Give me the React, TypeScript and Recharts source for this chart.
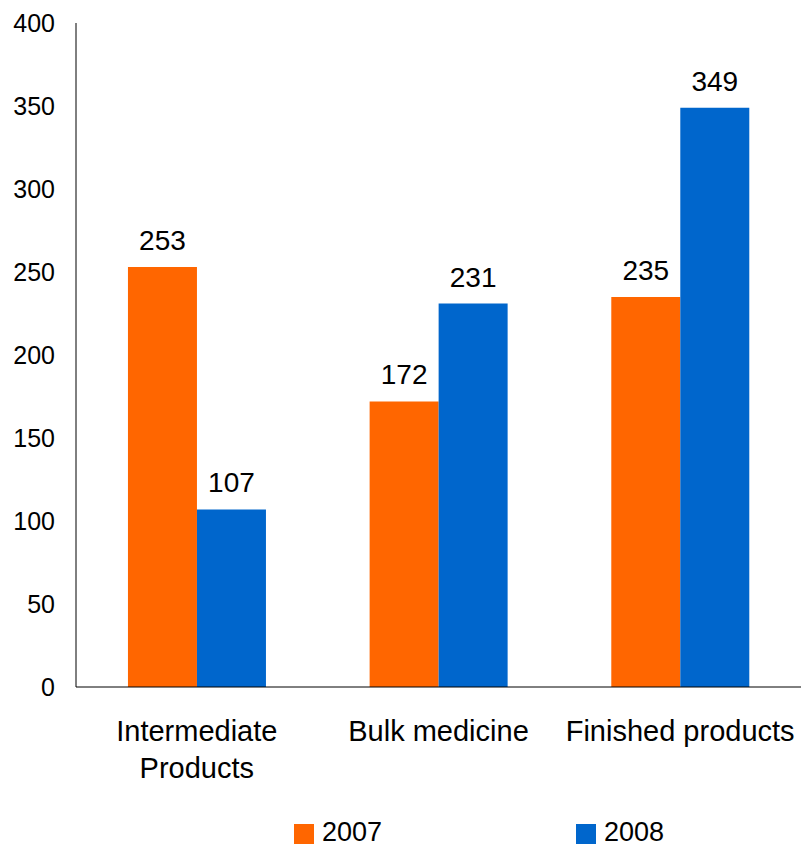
import React from 'react';
import { BarChart, Bar, XAxis, YAxis, LabelList } from 'recharts';

const categories = ['Intermediate Products', 'Bulk medicine', 'Finished products'];
const values2007 = [253, 172, 235];
const values2008 = [107, 231, 349];
const yTicks = [0, 50, 100, 150, 200, 250, 300, 350, 400];
const seriesNames = ['2007', '2008'];
const seriesColors = ['#FF6600', '#0066CC'];

const data = categories.map((name, i) => ({
  name,
  y2007: values2007[i],
  y2008: values2008[i],
}));

const FONT = '"Liberation Sans", Arial, Helvetica, sans-serif';

// long labels break at the space nearest the middle
const splitLabel = (s: string): string[] => {
  if (s.length <= 18) return [s];
  const mid = s.length / 2;
  let best = -1;
  for (let i = 0; i < s.length; i++) {
    if (s[i] === ' ' && (best < 0 || Math.abs(i - mid) < Math.abs(best - mid))) best = i;
  }
  return best < 0 ? [s] : [s.slice(0, best), s.slice(best + 1)];
};

const CategoryTick = (props: any) => {
  const { x, y, payload } = props;
  const lines = splitLabel(String(payload.value));
  return (
    <text x={x} y={y} textAnchor="middle" fontSize={29} fontFamily={FONT} fill="#000">
      {lines.map((l, i) => (
        <tspan key={i} x={x} dy={i === 0 ? 21 : 37}>
          {l}
        </tspan>
      ))}
    </text>
  );
};

const App: React.FC = () => {
  return (
    <div style={{ position: 'absolute', left: 0, top: 0, width: 801, height: 848, background: '#fff', fontFamily: FONT }}>
      <BarChart
        width={801}
        height={848}
        data={data}
        margin={{ top: 23, right: 0, left: 0, bottom: 61 }}
        barCategoryGap="21.5%"
        barGap={0}
      >
        <XAxis
          dataKey="name"
          height={100}
          tickSize={0}
          tickMargin={33}
          axisLine={{ stroke: '#000', strokeWidth: 1 }}
          tickLine={false}
          interval={0}
          tick={<CategoryTick />}
        />
        <YAxis
          width={76}
          domain={[0, 400]}
          ticks={yTicks}
          tickSize={0}
          tickMargin={21}
          axisLine={{ stroke: '#000', strokeWidth: 1 }}
          tickLine={false}
          tick={{ fontSize: 25, fill: '#000', fontFamily: FONT }}
        />
        <Bar dataKey="y2007" name={seriesNames[0]} fill={seriesColors[0]} isAnimationActive={false}>
          <LabelList dataKey="y2007" position="top" offset={17} fill="#000" fontSize={28} fontFamily={FONT} />
        </Bar>
        <Bar dataKey="y2008" name={seriesNames[1]} fill={seriesColors[1]} isAnimationActive={false}>
          <LabelList dataKey="y2008" position="top" offset={17} fill="#000" fontSize={28} fontFamily={FONT} />
        </Bar>
      </BarChart>
      <div style={{ position: 'absolute', left: 294, top: 818, display: 'flex' }}>
        {seriesNames.map((n, i) => (
          <div key={n} style={{ width: 282, display: 'flex', alignItems: 'center', height: 28 }}>
            <span style={{ width: 20, height: 20, background: seriesColors[i], display: 'inline-block', marginTop: 3 }} />
            <span style={{ marginLeft: 8, fontSize: 27, color: '#000', lineHeight: '28px' }}>{n}</span>
          </div>
        ))}
      </div>
    </div>
  );
};

export default App;
